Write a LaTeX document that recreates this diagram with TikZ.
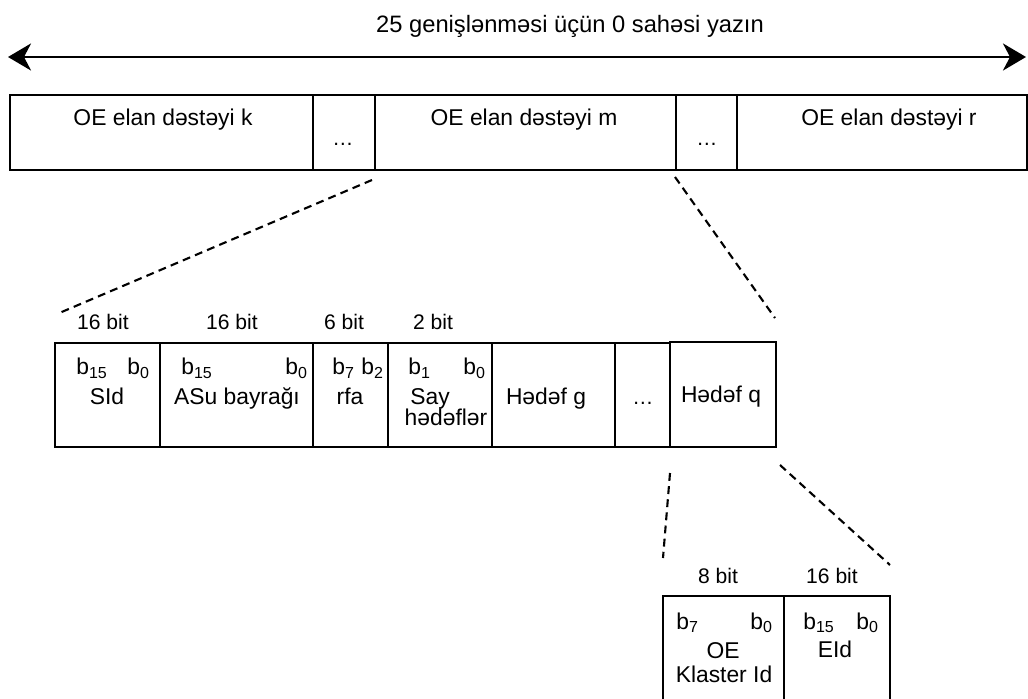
\documentclass[tikz,border=0pt]{standalone}
\usepackage{fontspec}
\setmainfont{Liberation Sans}
\usetikzlibrary{arrows.meta}

\tikzset{
  field/.style={draw, line width=1pt, anchor=north west, inner sep=0pt, outer sep=0pt},
  txt/.style={inner sep=0pt, anchor=base, font=\fontsize{13}{15}\selectfont},
  bits/.style={inner sep=0pt, anchor=base, font=\fontsize{12}{14}\selectfont},
  bnum/.style={inner sep=0pt, anchor=base west, font=\fontsize{13}{15}\selectfont},
  zoomline/.style={line width=1.2pt, dash pattern=on 4.5pt off 3pt},
}

\begin{document}
\begin{tikzpicture}[x=0.02cm,y=-0.02cm]
\useasboundingbox (0,0) rectangle (1028,699);
\clip (0,0) rectangle (1028,699);

% Title and double arrow
\node[txt,font=\fontsize{13.5}{16}\selectfont] (title) at (570,33) {25 genişlənməsi üçün 0 sahəsi yazın};
\coordinate (al) at (8,57);
\coordinate (ar) at (1026,57);
\draw[{Stealth[length=0.46cm,width=0.54cm,inset=0.14cm]}-{Stealth[length=0.46cm,width=0.54cm,inset=0.14cm]},line width=1.6pt] (al) -- (ar);

% Top row: announcement sets
\node[field,minimum width=6.06cm,minimum height=1.5cm] (k) at (10,95) {};
\node[field,minimum width=1.24cm,minimum height=1.5cm] (d1) at (313,95) {};
\node[field,minimum width=6.02cm,minimum height=1.5cm] (m) at (375,95) {};
\node[field,minimum width=1.22cm,minimum height=1.5cm] (d2) at (676,95) {};
\node[field,minimum width=5.80cm,minimum height=1.5cm] (r) at (737,95) {};
\node[txt] (tk) at (163,126) {OE elan dəstəyi k};
\node[txt] (tm) at (524,126) {OE elan dəstəyi m};
\node[txt] (tr) at (889,126) {OE elan dəstəyi r};
\node[bits] (td1) at (343,146) {\dots};
\node[bits] (td2) at (707,146) {\dots};

% Zoom into set m
\coordinate (m1) at (372,180);
\coordinate (m2) at (57,314);
\coordinate (m3) at (675,177);
\coordinate (m4) at (775,318);
\draw[zoomline] (m1) -- (m2);
\draw[zoomline] (m3) -- (m4);

% Middle row: fields of set m
\node[bits] (w1) at (103,330) {16 bit};
\node[bits] (w2) at (232,330) {16 bit};
\node[bits] (w3) at (344,330) {6 bit};
\node[bits] (w4) at (433,330) {2 bit};
\node[field,minimum width=2.10cm,minimum height=2.08cm] (sid) at (55,343) {};
\node[field,minimum width=3.06cm,minimum height=2.08cm] (asu) at (160,343) {};
\node[field,minimum width=1.50cm,minimum height=2.08cm] (rfa) at (313,343) {};
\node[field,minimum width=2.08cm,minimum height=2.08cm] (say) at (388,343) {};
\node[field,minimum width=2.46cm,minimum height=2.08cm] (hg) at (492,343) {};
\node[field,minimum width=1.10cm,minimum height=2.08cm] (d3) at (615,343) {};
\node[field,minimum width=2.12cm,minimum height=2.10cm] (hq) at (670,342) {};

\node[bnum] (sid15) at (76,375) {b\textsubscript{15}};
\node[bnum] (sid0) at (127,375) {b\textsubscript{0}};
\node[txt] (sidt) at (107,404) {SId};
\node[bnum] (asu15) at (181,375) {b\textsubscript{15}};
\node[bnum] (asu0) at (285,375) {b\textsubscript{0}};
\node[txt] (asut) at (237,404) {ASu bayrağı};
\node[bnum] (rfa7) at (332,375) {b\textsubscript{7}};
\node[bnum] (rfa2) at (361,375) {b\textsubscript{2}};
\node[txt] (rfat) at (350,404) {rfa};
\node[bnum] (say1) at (408,375) {b\textsubscript{1}};
\node[bnum] (say0) at (463,375) {b\textsubscript{0}};
\node[txt] (sayt) at (430,404) {Say};
\node[txt] (sayu) at (446,425) {hədəflər};
\node[txt] (hgt) at (546,404) {Hədəf g};
\node[bits] (d3t) at (643,404) {\dots};
\node[txt] (hqt) at (721,402) {Hədəf q};

% Zoom into target q
\coordinate (q1) at (670,473);
\coordinate (q2) at (663,558);
\coordinate (q3) at (780,465);
\coordinate (q4) at (890,565);
\draw[zoomline] (q1) -- (q2);
\draw[zoomline] (q3) -- (q4);

% Bottom row: fields of target q
\node[bits] (w5) at (718,583) {8 bit};
\node[bits] (w6) at (832,583) {16 bit};
\node[field,minimum width=2.42cm,minimum height=2.8cm] (oek) at (663,596) {};
\node[field,minimum width=2.12cm,minimum height=2.8cm] (eid) at (784,596) {};
\node[bnum] (oek7) at (676,629) {b\textsubscript{7}};
\node[bnum] (oek0) at (750,629) {b\textsubscript{0}};
\node[txt] (oekt) at (723,658) {OE};
\node[txt] (oeku) at (724,682) {Klaster Id};
\node[bnum] (eid15) at (803,629) {b\textsubscript{15}};
\node[bnum] (eid0) at (856,629) {b\textsubscript{0}};
\node[txt] (eidt) at (835,657) {EId};

\end{tikzpicture}
\end{document}
